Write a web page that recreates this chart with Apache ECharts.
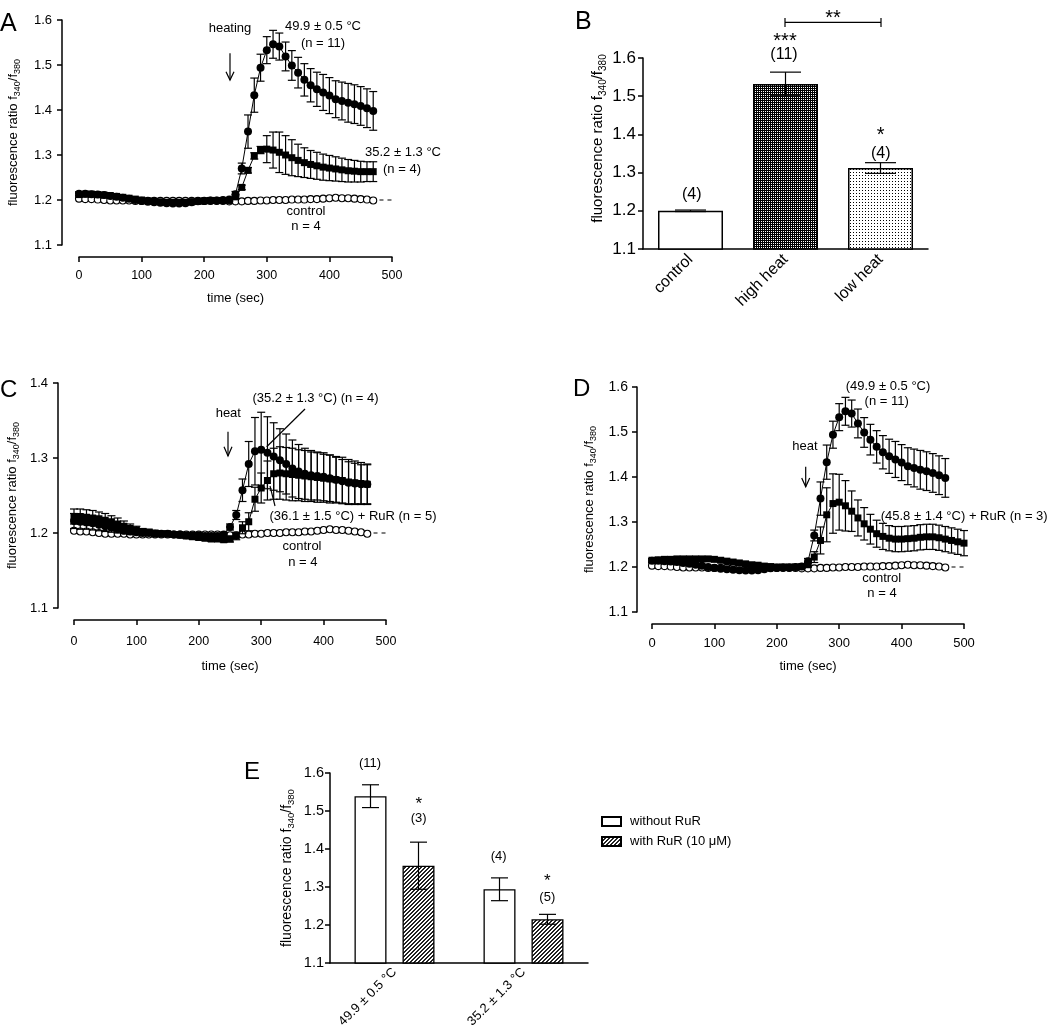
<!DOCTYPE html>
<html><head><meta charset="utf-8">
<script src="https://cdn.jsdelivr.net/npm/echarts@6/dist/echarts.min.js"></script>
<style>html,body{margin:0;padding:0;background:#fff}#c{width:1050px;height:1036px}</style>
</head><body><div id="c"></div>
<script>
const FONT = '"Liberation Sans", Arial, Helvetica, sans-serif';

// ---------- DATA ----------
const times = [0,10,20,30,40,50,60,70,80,90,100,110,120,130,140,150,160,170,180,190,200,210,220,230,240,
  250,260,270,280,290,300,310,320,330,340,350,360,370,380,390,400,410,420,430,440,450,460,470];
const timesD = [0,10,20,30,40,50,60,70,80,90,100,110,120,130,140,150,160,170,180,190,200,210,220,230,240,
  250,260,270,280,290,300,310,320,330,340,350,360,370,380,390,400,410,420,430,440,450,460,470,480,490,500];

// high heat 49.9 ± 0.5 °C (n = 11)
const highHeat = [1.214,1.214,1.213,1.212,1.211,1.209,1.207,1.205,1.203,1.200,1.198,1.196,1.195,1.194,1.193,1.192,1.192,1.193,1.195,1.197,1.198,1.199,1.199,1.200,1.201,
  1.213,1.270,1.352,1.433,1.494,1.533,1.546,1.541,1.519,1.499,1.483,1.467,1.455,1.446,1.439,1.432,1.424,1.420,1.416,1.413,1.409,1.404,1.398];
const highHeatErr = [0.004,0.004,0.004,0.004,0.004,0.004,0.004,0.003,0.003,0.003,0.003,0.003,0.003,0.003,0.003,0.003,0.003,0.003,0.003,0.003,0.003,0.003,0.003,0.003,0.003,
  0.006,0.012,0.037,0.038,0.030,0.030,0.031,0.030,0.032,0.033,0.034,0.036,0.037,0.038,0.040,0.040,0.041,0.042,0.043,0.043,0.043,0.043,0.043];

// low heat 35.2 ± 1.3 °C (n = 4), panel A
const lowHeat = [1.212,1.213,1.213,1.212,1.211,1.210,1.208,1.206,1.204,1.202,1.200,1.198,1.197,1.196,1.195,1.195,1.195,1.195,1.196,1.197,1.198,1.199,1.199,1.199,1.199,
  1.207,1.228,1.266,1.298,1.311,1.313,1.311,1.306,1.300,1.294,1.288,1.283,1.279,1.276,1.273,1.271,1.269,1.267,1.265,1.264,1.263,1.263,1.263];
const lowHeatErr = [0.003,0.003,0.003,0.003,0.003,0.003,0.003,0.003,0.003,0.003,0.003,0.003,0.003,0.003,0.003,0.003,0.003,0.003,0.003,0.003,0.003,0.003,0.003,0.003,0.003,
  0.004,0.005,0.006,0.007,0.008,0.030,0.040,0.045,0.043,0.040,0.036,0.033,0.031,0.030,0.029,0.028,0.027,0.026,0.025,0.024,0.023,0.022,0.022];

// control (n = 4)
const control = [1.203,1.202,1.202,1.201,1.200,1.199,1.199,1.199,1.199,1.198,1.198,1.198,1.198,1.198,1.198,1.198,1.198,1.198,1.198,1.198,1.198,1.198,1.198,1.198,1.197,
  1.197,1.197,1.198,1.198,1.199,1.199,1.200,1.200,1.200,1.201,1.201,1.201,1.202,1.202,1.203,1.204,1.205,1.204,1.204,1.203,1.202,1.201,1.199];
const controlTail = [[480,1.2],[500,1.2]];

// panel C: 35.2 ± 1.3 °C (n = 4) and 36.1 ± 1.5 °C + RuR (n = 5)
const c35 = [1.216,1.215,1.214,1.213,1.211,1.209,1.207,1.205,1.203,1.202,1.201,1.200,1.200,1.199,1.199,1.199,1.198,1.198,1.197,1.197,1.197,1.196,1.196,1.196,1.198,
  1.208,1.224,1.257,1.292,1.309,1.311,1.307,1.302,1.297,1.292,1.286,1.282,1.279,1.277,1.276,1.275,1.273,1.271,1.269,1.267,1.266,1.265,1.265];
const c35Err = [0.010,0.010,0.009,0.009,0.008,0.007,0.006,0.005,0.004,0.004,0.003,0.003,0.003,0.003,0.003,0.003,0.003,0.003,0.003,0.003,0.003,0.003,0.003,0.003,0.003,
  0.004,0.006,0.015,0.030,0.045,0.050,0.048,0.045,0.042,0.040,0.038,0.036,0.034,0.033,0.032,0.032,0.031,0.030,0.029,0.028,0.027,0.026,0.026];
const cRuR = [1.222,1.222,1.221,1.220,1.219,1.217,1.215,1.212,1.209,1.206,1.204,1.202,1.201,1.200,1.199,1.199,1.198,1.197,1.196,1.195,1.194,1.193,1.192,1.192,1.191,
  1.192,1.196,1.207,1.215,1.245,1.260,1.270,1.279,1.280,1.279,1.278,1.277,1.276,1.275,1.274,1.273,1.272,1.271,1.270,1.268,1.267,1.266,1.265];
const cRuRErr = [0.010,0.010,0.010,0.010,0.009,0.009,0.008,0.008,0.007,0.006,0.005,0.004,0.004,0.003,0.003,0.003,0.003,0.003,0.003,0.003,0.003,0.003,0.003,0.003,0.003,
  0.004,0.005,0.008,0.012,0.016,0.020,0.026,0.034,0.035,0.035,0.035,0.034,0.034,0.033,0.033,0.032,0.032,0.031,0.031,0.030,0.029,0.028,0.027];

// panel D: 45.8 ± 1.4 °C + RuR (n = 3)
const dRuR = [1.215,1.216,1.217,1.217,1.218,1.218,1.218,1.218,1.218,1.218,1.217,1.215,1.213,1.211,1.209,1.207,1.205,1.204,1.202,1.201,1.200,1.200,1.200,1.200,1.201,
  1.205,1.222,1.259,1.316,1.341,1.344,1.336,1.324,1.309,1.296,1.284,1.274,1.268,1.264,1.262,1.262,1.263,1.264,1.266,1.267,1.267,1.265,1.262,1.259,1.256,1.253];
const dRuRErr = [0.004,0.004,0.004,0.004,0.004,0.004,0.004,0.004,0.004,0.004,0.004,0.004,0.003,0.003,0.003,0.003,0.003,0.003,0.003,0.003,0.003,0.003,0.003,0.003,0.003,
  0.005,0.012,0.030,0.060,0.066,0.062,0.056,0.045,0.040,0.036,0.033,0.030,0.029,0.028,0.028,0.028,0.028,0.028,0.028,0.028,0.028,0.028,0.028,0.028,0.028,0.028];

// panel B
const bCats = ['control','high heat','low heat'];
const bValues = [1.200, 1.532, 1.312];
const bErr = [0.002, 0.031, 0.014];

// panel E
const eCats = ['49.9 ± 0.5 °C','35.2 ± 1.3 °C'];
const eNames = ['without RuR','with RuR (10 μM)'];
const eWithout = [1.539, 1.294];
const eWithoutErr = [0.030, 0.030];
const eWith = [1.356, 1.215];
const eWithErr = [0.062, 0.013];

// ---------- PATTERNS ----------
function pattern(kind){
  const c = document.createElement('canvas');
  const g = c.getContext('2d');
  if (kind === 'dark') {
    c.width = 2; c.height = 2;
    g.fillStyle = '#000'; g.fillRect(0,0,2,2);
    g.fillStyle = '#fff'; g.fillRect(1,1,1,1);
  } else if (kind === 'dots') {
    c.width = 3; c.height = 3;
    g.fillStyle = '#fff'; g.fillRect(0,0,3,3);
    g.fillStyle = '#000'; g.fillRect(1,1,1,1);
  } else {
    c.width = 4; c.height = 4;
    g.fillStyle = '#fff'; g.fillRect(0,0,4,4);
    g.fillStyle = '#222';
    for (let i = 0; i < 4; i++) { g.fillRect(i, 3 - i, 1, 1); g.fillRect((i + 1) % 4, 3 - i, 1, 1); }
  }
  return { image: c, repeat: 'repeat' };
}

// ---------- HELPERS ----------
const AX = { color: '#000', width: 1.5 };
const pair = (xs, ys) => ys.map((v, i) => [xs[i], v]);
const triple = (xs, ys, es) => ys.map((v, i) => [xs[i], v, es[i]]);

function timeX(gi, offset, fs, margin, nameGap){
  return { gridIndex: gi, type: 'value', min: 0, max: 500, interval: 100, offset,
    axisLine: { show: true, onZero: false, lineStyle: AX },
    axisTick: { show: true, length: 5, lineStyle: AX },
    axisLabel: { fontSize: fs, margin, color: '#000', fontFamily: FONT },
    splitLine: { show: false },
    name: 'time (sec)', nameLocation: 'middle', nameGap,
    nameTextStyle: { fontSize: 13, color: '#000', fontFamily: FONT } };
}
function catX(gi, data, fs, margin){
  return { gridIndex: gi, type: 'category', data,
    axisLine: { show: true, onZero: false, lineStyle: AX },
    axisTick: { show: false },
    axisLabel: { rotate: 45, fontSize: fs, margin, interval: 0, color: '#000', fontFamily: FONT } };
}
function valY(gi, max, offset, fs, margin, nameGap, nfs, sfs, lh, pad){
  return { gridIndex: gi, type: 'value', min: 1.1, max, interval: 0.1, offset,
    axisLine: { show: true, onZero: false, lineStyle: AX },
    axisTick: { show: true, length: 5, lineStyle: AX },
    axisLabel: { fontSize: fs, margin, color: '#000', fontFamily: FONT, formatter: v => v.toFixed(1) },
    splitLine: { show: false },
    name: '{a|fluorescence ratio f}{s|340}{a|/f}{s|380}', nameLocation: 'middle', nameGap,
    nameTextStyle: { padding: pad || 0, rich: {
      a: { fontSize: nfs, lineHeight: lh, color: '#000', fontFamily: FONT },
      s: { fontSize: sfs, lineHeight: lh, verticalAlign: 'bottom', color: '#000', fontFamily: FONT } } } };
}
function errSeries(gi, data, capHalf, offset){
  return { type: 'custom', xAxisIndex: gi, yAxisIndex: gi, data, z: 3, silent: true,
    encode: { x: 0, y: 1 },
    renderItem: (params, api) => {
      const x = api.value(0), y = api.value(1), e = api.value(2);
      const top = api.coord([x, y + e]), bot = api.coord([x, y - e]);
      const cx = top[0] + (offset || 0);
      const st = { stroke: '#000', lineWidth: 1.2 };
      return { type: 'group', children: [
        { type: 'line', shape: { x1: cx, y1: top[1], x2: cx, y2: bot[1] }, style: st },
        { type: 'line', shape: { x1: cx - capHalf, y1: top[1], x2: cx + capHalf, y2: top[1] }, style: st },
        { type: 'line', shape: { x1: cx - capHalf, y1: bot[1], x2: cx + capHalf, y2: bot[1] }, style: st } ] };
    } };
}
function lineSeries(gi, data, symbol, size, z){
  return { type: 'line', xAxisIndex: gi, yAxisIndex: gi, data, symbol, symbolSize: size, z: z || 4,
    showSymbol: true, silent: true,
    itemStyle: { color: '#000', borderColor: '#000', borderWidth: 0 },
    lineStyle: { color: '#000', width: 1 } };
}
function controlSeries(gi){
  return { type: 'line', xAxisIndex: gi, yAxisIndex: gi, data: pair(times, control),
    symbol: 'circle', symbolSize: 7, z: 2, silent: true,
    itemStyle: { color: '#fff', borderColor: '#000', borderWidth: 1.1 },
    lineStyle: { color: '#000', width: 1 } };
}
function tailSeries(gi){
  return { type: 'line', xAxisIndex: gi, yAxisIndex: gi, data: controlTail, symbol: 'none', z: 2, silent: true,
    lineStyle: { color: '#000', width: 1.2, type: [4, 4] } };
}

const T = (x, y, text, fs, align) => ({ type: 'text', silent: true,
  style: { x, y, text, fontSize: fs, fontFamily: FONT, fill: '#000', align: align || 'center', verticalAlign: 'middle' } });
const P = (pts) => ({ type: 'polyline', silent: true, shape: { points: pts },
  style: { stroke: '#000', lineWidth: 1.2, fill: null } });

// ---------- OPTION ----------
const option = {
  animation: false,
  backgroundColor: '#fff',
  textStyle: { fontFamily: FONT, color: '#000' },
  grid: [
    { left: 79, top: 20, width: 313, height: 225 },
    { left: 643, top: 58, width: 285, height: 191 },
    { left: 74, top: 383, width: 312, height: 225 },
    { left: 652, top: 387, width: 312, height: 225 },
    { left: 330, top: 773, width: 258, height: 190 }
  ],
  xAxis: [
    timeX(0, 12, 12.5, 12, 35),
    catX(1, bCats, 16, 8),
    timeX(2, 12, 12.5, 15, 40),
    timeX(3, 12, 13, 13, 36),
    catX(4, eCats, 13, 7)
  ],
  yAxis: [
    valY(0, 1.6, 17, 13, 10, 40, 13, 9, 18),
    valY(1, 1.6, 0, 17, 7, 29, 15, 10, 22, [0, 0, 0, 30]),
    valY(2, 1.4, 16, 13, 10, 37, 13, 9, 18),
    valY(3, 1.6, 15, 14, 9, 39, 13, 9, 18),
    valY(4, 1.6, 0, 14.5, 6, 34, 14, 9.5, 18)
  ],
  legend: { data: eNames, left: 601, top: 815, padding: 0, orient: 'vertical', icon: 'rect',
    itemWidth: 19, itemHeight: 9, itemGap: 7, selectedMode: false,
    textStyle: { fontSize: 13, color: '#000', fontFamily: FONT, padding: [0, 0, 0, 4] } },
  series: [
    // A
    controlSeries(0), tailSeries(0),
    errSeries(0, triple(times, lowHeat, lowHeatErr), 4),
    errSeries(0, triple(times, highHeat, highHeatErr), 4),
    lineSeries(0, pair(times, lowHeat), 'rect', 7),
    lineSeries(0, pair(times, highHeat), 'circle', 8, 5),
    // B
    { type: 'bar', xAxisIndex: 1, yAxisIndex: 1, barWidth: 65, silent: true,
      data: bValues.map((v, i) => ({ value: v, itemStyle: { color: [ '#fff', pattern('dark'), pattern('dots') ][i] } })),
      itemStyle: { borderColor: '#000', borderWidth: 1.5 } },
    errSeries(1, bValues.map((v, i) => [i, v, bErr[i]]), 15.5),
    // C
    controlSeries(2), tailSeries(2),
    errSeries(2, triple(times, cRuR, cRuRErr), 4),
    errSeries(2, triple(times, c35, c35Err), 4),
    lineSeries(2, pair(times, cRuR), 'rect', 7),
    lineSeries(2, pair(times, c35), 'circle', 8, 5),
    // D
    controlSeries(3), tailSeries(3),
    errSeries(3, triple(timesD, dRuR, dRuRErr), 4),
    errSeries(3, triple(times, highHeat, highHeatErr), 4),
    lineSeries(3, pair(timesD, dRuR), 'rect', 7),
    lineSeries(3, pair(times, highHeat), 'circle', 8, 5),
    // E
    { type: 'bar', name: eNames[0], xAxisIndex: 4, yAxisIndex: 4, data: eWithout, barWidth: 32, barGap: '50%', silent: true,
      itemStyle: { color: '#fff', borderColor: '#000', borderWidth: 1.3 } },
    { type: 'bar', name: eNames[1], xAxisIndex: 4, yAxisIndex: 4, data: eWith, barWidth: 32, barGap: '50%', silent: true,
      itemStyle: { color: pattern('hatch'), borderColor: '#000', borderWidth: 1.3 } },
    errSeries(4, eWithout.map((v, i) => [i, v, eWithoutErr[i]]), 8.5, -24),
    errSeries(4, eWith.map((v, i) => [i, v, eWithErr[i]]), 8.5, 24)
  ],
  graphic: [
    // panel letters
    T(0, 24, 'A', 25, 'left'), T(575, 22.5, 'B', 25, 'left'), T(0, 390.5, 'C', 24, 'left'),
    T(573, 389, 'D', 24, 'left'), T(244, 772, 'E', 24, 'left'),
    // A
    T(230, 28.3, 'heating', 13), P([[230, 53.3], [230, 80]]), P([[226, 71.7], [230, 80], [234, 71.7]]),
    T(323, 26.7, '49.9 ± 0.5 °C', 13), T(323, 43.3, '(n = 11)', 13),
    T(403, 152.7, '35.2 ± 1.3 °C', 13), T(402, 169.3, '(n = 4)', 13),
    T(306, 211.7, 'control', 13), T(306, 226.7, 'n = 4', 13),
    // B
    T(691.7, 194.3, '(4)', 16), T(785, 41.7, '***', 20), T(784, 55, '(11)', 16),
    T(880.7, 135, '*', 20), T(880.7, 153.3, '(4)', 16), T(833, 18.3, '**', 20),
    P([[785, 22.3], [881, 22.3]]), P([[785, 18], [785, 27]]), P([[881, 18], [881, 27]]),
    // C
    T(228.3, 413.3, 'heat', 13), P([[228, 431.7], [228, 456]]), P([[224, 446.7], [228, 456], [232, 446.7]]),
    T(315.5, 398.3, '(35.2 ± 1.3 °C) (n = 4)', 13), P([[305, 409], [266.7, 446.7]]),
    T(353, 516.7, '(36.1 ± 1.5 °C) + RuR (n = 5)', 13), P([[275, 506], [270, 486]]),
    T(302, 546.7, 'control', 13), T(302.8, 562.7, 'n = 4', 13),
    // D
    T(888, 386, '(49.9 ± 0.5 °C)', 13), T(886.7, 401.7, '(n = 11)', 13),
    T(805, 446, 'heat', 13), P([[805.7, 466.7], [805.7, 486.7]]), P([[801.7, 478], [805.7, 486.7], [809.7, 478]]),
    T(880.7, 516, '(45.8 ± 1.4 °C) + RuR (n = 3)', 13, 'left'),
    T(881.7, 578.3, 'control', 13), T(882, 593, 'n = 4', 13),
    // E
    T(370, 763.3, '(11)', 13), T(418.7, 804, '*', 17), T(418.7, 818.3, '(3)', 13),
    T(498.7, 856, '(4)', 13), T(547.3, 881.7, '*', 17), T(547.3, 897.3, '(5)', 13)
  ]
};

const chart = echarts.init(document.getElementById('c'), null, { renderer: 'canvas' });
chart.setOption(option);
</script>
</body></html>
